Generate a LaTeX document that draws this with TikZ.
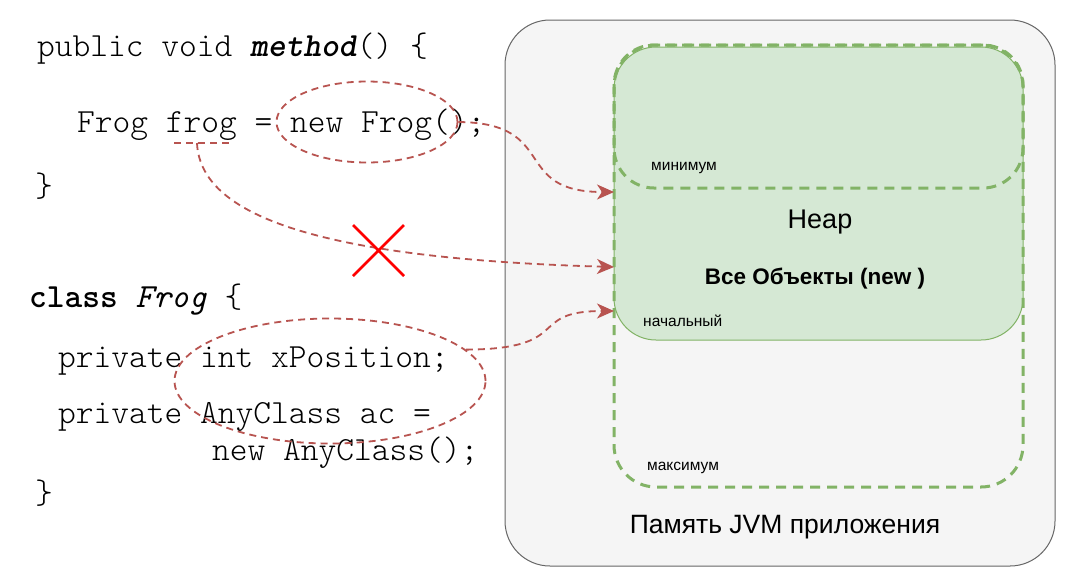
\documentclass[tikz,border=0pt]{standalone}
\usepackage{fontspec}
\newfontfamily\labfont{Liberation Sans}
\usetikzlibrary{arrows.meta,shapes.geometric}
\definecolor{edgered}{HTML}{B85450}
\definecolor{grstroke}{HTML}{82B366}
\definecolor{grfill}{HTML}{D5E8D4}
\definecolor{jvmfill}{HTML}{F5F5F5}
\definecolor{jvmstroke}{HTML}{666666}
\definecolor{crossred}{HTML}{FF0000}
\tikzset{
  codetext/.style={anchor=base west, inner sep=0pt, font=\fontsize{33.8}{40}\selectfont\ttfamily\fontseries{l}\selectfont},
  smalllab/.style={anchor=base west, inner sep=0pt, font=\fontsize{15.5}{18}\selectfont\labfont},
  redring/.style={ellipse, draw=edgered, dash pattern=on 7pt off 5pt, line width=1.8pt, inner sep=0pt},
  refarrow/.style={draw=edgered, dash pattern=on 7pt off 5pt, line width=1.8pt,
    -{Stealth[length=17pt,width=15pt,inset=5pt]}},
  greendash/.style={draw=grstroke, line width=3pt, dash pattern=on 10pt off 7pt, inner sep=0pt},
}
\begin{document}
\begin{tikzpicture}[x=1pt,y=-1pt]
\fill[white] (0,0) rectangle (1075,587);
\useasboundingbox (0,0) rectangle (1075,587);

% JVM memory box
\node[draw=jvmstroke, fill=jvmfill, line width=1pt, rounded corners=45pt,
      minimum width=550pt, minimum height=546pt, inner sep=0pt] (jvm) at (780,293) {};
% Heap
\node[draw=grstroke, fill=grfill, line width=1pt, rounded corners=42pt,
      minimum width=409pt, minimum height=293pt, inner sep=0pt] (heap) at (818.5,193.5) {};
\node[greendash, rounded corners=42pt, minimum width=409pt, minimum height=442pt] (maxbox) at (818.5,266) {};
\node[greendash, rounded corners=40pt, minimum width=409pt, minimum height=143pt] (minbox) at (818.5,116.5) {};

% labels
\node[smalllab] (lmin) at (651,170) {минимум};
\node[smalllab] (lstart) at (643,326) {начальный};
\node[smalllab] (lmax) at (647,470) {максимум};
\node[anchor=base, inner sep=0pt, font=\fontsize{27}{30}\selectfont\labfont] (lheap) at (820,228) {Heap};
\node[anchor=base, inner sep=0pt, font=\fontsize{22.5}{26}\selectfont\labfont\bfseries] (lall) at (815,284) {Все Объекты (new )};
\node[anchor=base, inner sep=0pt, font=\fontsize{26.5}{30}\selectfont\labfont] (ljvm) at (785,533) {Память JVM приложения};

% code
\node[codetext] (c1) at (37,56) {public void {\fontseries{b}\selectfont\textit{method}}() \{};
\node[codetext] (c2) at (77,132) {Frog frog = new Frog();};
\node[codetext] (c3) at (35,196) {\}};
\node[codetext] (c4) at (29,307) {{\fontseries{b}\selectfont class} {\fontseries{m}\selectfont\textit{Frog}} \{};
\node[codetext] (c5) at (58,367) {private int xPosition;};
\node[codetext] (c6) at (58,423) {private AnyClass ac =};
\node[codetext] (c7) at (212,460) {new AnyClass();};
\node[codetext] (c8) at (35,503) {\}};

% rings
\node[redring, minimum width=181pt, minimum height=81pt] (ring1) at (367,122) {};
\node[redring, minimum width=311pt, minimum height=125pt] (ring2) at (330,381) {};

% frog underline
\coordinate (fu1) at (174,143);
\coordinate (fu2) at (229,143);
\coordinate (fstart) at (197,143);
\draw[draw=edgered, dash pattern=on 7pt off 5pt, line width=1.8pt] (fu1) -- (fu2);

% arrow targets
\coordinate (t1) at (614,192);
\coordinate (t2) at (614,267);
\coordinate (t3) at (614,311);

\draw[refarrow] (ring1.east) .. controls (560,123) and (510,192) .. (t1);
\draw[refarrow] (fstart) .. controls (200,210) and (300,258) .. (t2);
\draw[refarrow] (ring2.13) .. controls (575,349) and (525,311) .. (t3);

% cross
\coordinate (x1) at (353,225);
\coordinate (x2) at (404,276);
\coordinate (x3) at (404,225);
\coordinate (x4) at (353,276);
\draw[crossred, line width=2.5pt] (x1) -- (x2) (x3) -- (x4);
\end{tikzpicture}
\end{document}
